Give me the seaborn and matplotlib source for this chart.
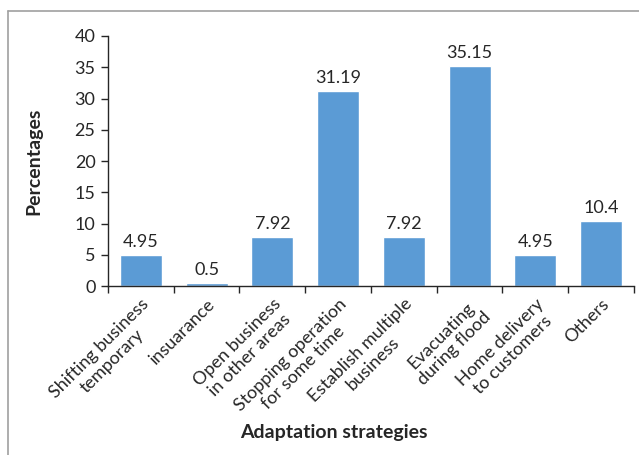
import pandas as pd
import numpy as np
import matplotlib.pyplot as plt
import seaborn as sns
from matplotlib.lines import Line2D

# data
categories = ["Shifting business\ntemporary", "insuarance", "Open business\nin other areas",
              "Stopping operation\nfor some time", "Establish multiple\nbusiness",
              "Evacuating\nduring flood", "Home delivery\nto customers", "Others"]
percentages = [4.95, 0.5, 7.92, 31.19, 7.92, 35.15, 4.95, 10.4]
value_labels = ["4.95", "0.5", "7.92", "31.19", "7.92", "35.15", "4.95", "10.4"]

df = pd.DataFrame({"strategy": categories, "pct": percentages})

sns.set_style("white")
plt.rcParams["font.family"] = ["Lato", "DejaVu Sans"]
txt = "#262626"

fig = plt.figure(figsize=(6.39, 4.55), dpi=100)
ax = fig.add_axes([0.169, 0.371, 0.823, 0.550])

sns.barplot(data=df, x="strategy", y="pct", color="#5B9BD5", width=0.64,
            saturation=1, ax=ax)

for i, (v, lab) in enumerate(zip(percentages, value_labels)):
    ax.text(i, v + 0.8, lab, ha="center", va="bottom", fontsize=13, color=txt)

ax.set_ylim(0, 40)
ax.set_xlim(-0.5, len(categories) - 0.5)
ax.set_yticks(np.arange(0, 41, 5))
ax.tick_params(axis="y", labelsize=13, colors=txt, length=5, width=1, direction="out", left=True, pad=4)
ax.set_xticks(range(len(categories)))
ax.set_xticklabels(categories, rotation=45, ha="right", va="top",
                   rotation_mode="anchor", multialignment="center", fontsize=13,
                   color=txt, linespacing=1.15)
ax.tick_params(axis="x", length=0, pad=7)
ax.set_xticks(np.arange(-0.5, len(categories), 1), minor=True)
ax.tick_params(axis="x", which="minor", length=5, width=1, direction="out", bottom=True, color=txt)

for s in ["top", "right"]:
    ax.spines[s].set_visible(False)
for s in ["left", "bottom"]:
    ax.spines[s].set_color(txt)
    ax.spines[s].set_linewidth(1)

ax.set_ylabel("Percentages", fontsize=14, fontweight="bold", color=txt)
ax.yaxis.set_label_coords(-0.124, 0.5)
ax.set_xlabel("Adaptation strategies", fontsize=14, fontweight="bold", color=txt)
ax.xaxis.set_label_coords(0.43, -0.55)

# outer frame
fig.add_artist(Line2D([8/639, 1], [1 - 11/455, 1 - 11/455], color="#a0a0a0", lw=1.2))
fig.add_artist(Line2D([8/639, 8/639], [0, 1 - 11/455], color="#a0a0a0", lw=1.2))

plt.savefig("out.png", dpi=100)
